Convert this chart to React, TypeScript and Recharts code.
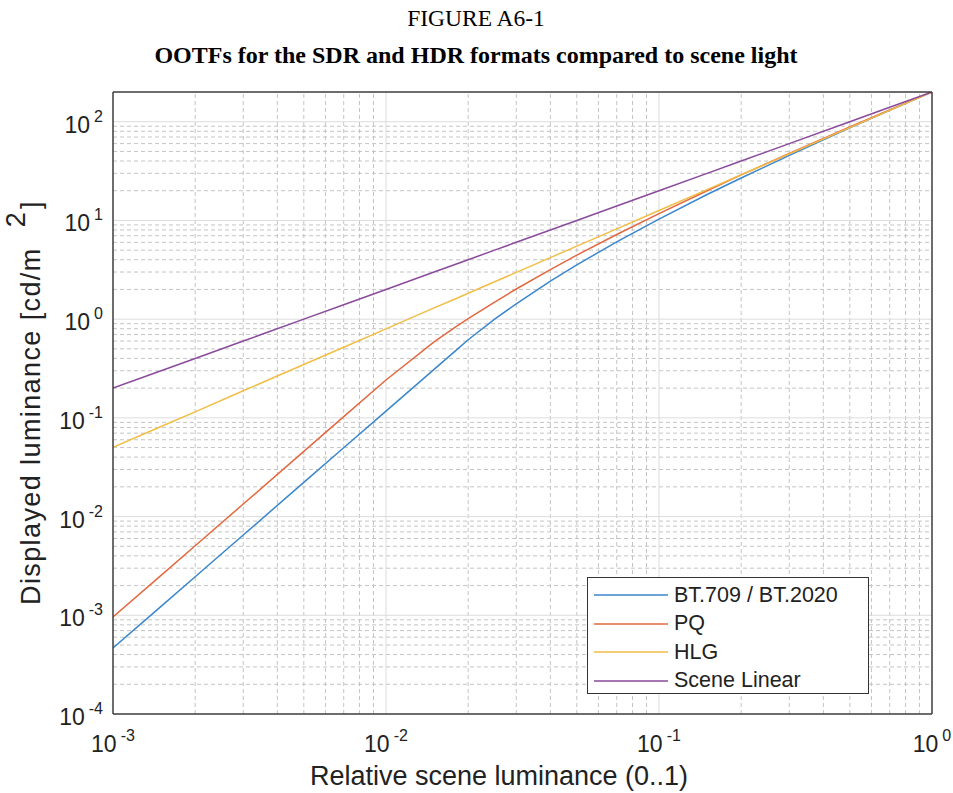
import { Legend, Line, LineChart, ReferenceLine, XAxis, YAxis } from "recharts";

// relative scene luminance (x) and displayed luminance in cd/m² for each OOTF
const sceneLuminance = [
  0.001, 0.0015, 0.002, 0.003, 0.005, 0.007, 0.01, 0.015, 0.018, 0.02, 0.025,
  0.03, 0.04, 0.05, 0.07, 0.1, 0.15, 0.2, 0.3, 0.5, 0.7, 1,
];
const bt709 = [
  0.000466, 0.00123, 0.00246, 0.00651, 0.0222, 0.0498, 0.117, 0.31, 0.48,
  0.618, 1.0, 1.43, 2.43, 3.55, 6.06, 10.3, 18.3, 26.9, 45.6, 86.6, 130.5, 200,
];
const pq = [
  0.00096, 0.00254, 0.00507, 0.0134, 0.0457, 0.103, 0.242, 0.588, 0.834, 1.01,
  1.49, 2.02, 3.18, 4.45, 7.2, 11.7, 20.0, 28.9, 47.7, 88.5, 131.9, 200,
];
const hlg = [
  0.0502, 0.0817, 0.115, 0.188, 0.347, 0.519, 0.796, 1.3, 1.61, 1.83, 2.39,
  2.98, 4.2, 5.49, 8.22, 12.6, 20.5, 29.0, 47.2, 87.1, 130.4, 200,
];
const sceneLinear = [
  0.2, 0.3, 0.4, 0.6, 1, 1.4, 2, 3, 3.6, 4, 5, 6, 8, 10, 14, 20, 30, 40, 60,
  100, 140, 200,
];

const xMajorTicks = [0.001, 0.01, 0.1, 1];
const yMajorTicks = [0.0001, 0.001, 0.01, 0.1, 1, 10, 100];
const minorSteps = [2, 3, 4, 5, 6, 7, 8, 9];
const xMinorTicks = [0.001, 0.01, 0.1].flatMap((d) => minorSteps.map((k) => k * d));
const yMinorTicks = [0.0001, 0.001, 0.01, 0.1, 1, 10].flatMap((d) =>
  minorSteps.map((k) => k * d),
);

const series = [
  { key: "bt709", name: "BT.709 / BT.2020", color: "#3a86cc" },
  { key: "pq", name: "PQ", color: "#e2683f" },
  { key: "hlg", name: "HLG", color: "#f2bd45" },
  { key: "scene", name: "Scene Linear", color: "#8a4a9c" },
];

const data = sceneLuminance.map((x, i) => ({
  x,
  bt709: bt709[i],
  pq: pq[i],
  hlg: hlg[i],
  scene: sceneLinear[i],
}));

const sans = "'Liberation Sans', Arial, sans-serif";
const serif = "'Liberation Serif', 'Times New Roman', serif";
const axisColor = "#3c3c3c";
const xDomain = [0.001, 1];
const yDomain = [0.0001, 200];

function XTick({ x, y, payload }: any) {
  const exp = Math.round(Math.log10(payload.value));
  return (
    <text x={x} y={y + 38} textAnchor="middle" fontFamily={sans} fontSize={23} fill="#222">
      <tspan>10</tspan>
      <tspan dx={4} dy={-11} fontSize={16}>
        {exp}
      </tspan>
    </text>
  );
}

function YTick({ x, y, payload }: any) {
  const exp = Math.round(Math.log10(payload.value));
  return (
    <text x={x - 10} y={y + 11} textAnchor="end" fontFamily={sans} fontSize={23} fill="#222">
      <tspan>10</tspan>
      <tspan dx={4} dy={-11} fontSize={16}>
        {exp}
      </tspan>
    </text>
  );
}

function LegendBox() {
  return (
    <div
      style={{
        width: 282,
        height: 117,
        border: "1.5px solid #333",
        background: "#fff",
        boxSizing: "border-box",
        paddingTop: 3,
      }}
    >
      {series.map((s) => (
        <div
          key={s.key}
          style={{ display: "flex", alignItems: "center", height: 28.5 }}
        >
          <svg width={86} height={10} style={{ flex: "none" }}>
            <line x1={6} x2={80} y1={5} y2={5} stroke={s.color} strokeWidth={1.5} />
          </svg>
          <span style={{ fontFamily: sans, fontSize: 21.5, color: "#222", lineHeight: 1 }}>
            {s.name}
          </span>
        </div>
      ))}
    </div>
  );
}

// inside tick marks only (MATLAB style box)
const tickAxis = {
  type: "number" as const,
  scale: "log" as const,
  allowDataOverflow: true,
  interval: 0 as const,
  tick: false,
  axisLine: false,
  tickLine: { stroke: axisColor },
  mirror: true,
};

export default function App() {
  return (
    <div style={{ position: "absolute", left: 0, top: 0, width: 953, height: 793, background: "#fff" }}>
      <LineChart
        width={953}
        height={793}
        data={data}
        margin={{ top: 92, right: 21, bottom: 19, left: 23 }}
      >
        <XAxis {...tickAxis} xAxisId="bMaj" orientation="bottom" height={1} domain={xDomain} ticks={xMajorTicks} tickSize={9} />
        <XAxis {...tickAxis} xAxisId="bMin" orientation="bottom" height={1} domain={xDomain} ticks={xMinorTicks} tickSize={5} />
        <XAxis
          {...tickAxis}
          xAxisId="tMaj"
          orientation="top"
          height={1}
          domain={xDomain}
          ticks={xMajorTicks}
          tickSize={9}
          axisLine={{ stroke: axisColor, strokeWidth: 1.5 }}
        />
        <XAxis {...tickAxis} xAxisId="tMin" orientation="top" height={1} domain={xDomain} ticks={xMinorTicks} tickSize={5} />
        <XAxis
          dataKey="x"
          type="number"
          scale="log"
          domain={xDomain}
          allowDataOverflow
          ticks={xMajorTicks}
          interval={0}
          height={60}
          tickSize={0}
          tickMargin={0}
          tickLine={false}
          axisLine={{ stroke: axisColor, strokeWidth: 1.5 }}
          tick={<XTick />}
        />

        <YAxis {...tickAxis} yAxisId="lMaj" orientation="left" width={1} domain={yDomain} ticks={yMajorTicks} tickSize={9} />
        <YAxis {...tickAxis} yAxisId="lMin" orientation="left" width={1} domain={yDomain} ticks={yMinorTicks} tickSize={5} />
        <YAxis
          {...tickAxis}
          yAxisId="rMaj"
          orientation="right"
          width={1}
          domain={yDomain}
          ticks={yMajorTicks}
          tickSize={9}
          axisLine={{ stroke: axisColor, strokeWidth: 1.5 }}
        />
        <YAxis {...tickAxis} yAxisId="rMin" orientation="right" width={1} domain={yDomain} ticks={yMinorTicks} tickSize={5} />
        <YAxis
          type="number"
          scale="log"
          domain={yDomain}
          allowDataOverflow
          ticks={yMajorTicks}
          interval={0}
          width={90}
          tickSize={0}
          tickMargin={0}
          tickLine={false}
          axisLine={{ stroke: axisColor, strokeWidth: 1.5 }}
          tick={<YTick />}
        />

        {xMinorTicks.map((v) => (
          <ReferenceLine key={`xm${v}`} x={v} stroke="#c4c4c4" strokeDasharray="4 3" />
        ))}
        {yMinorTicks.map((v) => (
          <ReferenceLine key={`ym${v}`} y={v} stroke="#c4c4c4" strokeDasharray="4 3" />
        ))}
        {xMajorTicks.slice(1, -1).map((v) => (
          <ReferenceLine key={`xM${v}`} x={v} stroke="#dcdcdc" />
        ))}
        {yMajorTicks.slice(1).map((v) => (
          <ReferenceLine key={`yM${v}`} y={v} stroke="#dcdcdc" />
        ))}

        {series.map((s) => (
          <Line
            key={s.key}
            dataKey={s.key}
            name={s.name}
            stroke={s.color}
            strokeWidth={1.5}
            dot={false}
            type="linear"
            isAnimationActive={false}
          />
        ))}

        <Legend
          layout="vertical"
          align="center"
          verticalAlign="middle"
          wrapperStyle={{ position: "absolute", left: 587, top: 577, width: 282, height: 117 }}
          content={<LegendBox />}
        />
      </LineChart>

      <svg
        width={953}
        height={793}
        style={{ position: "absolute", left: 0, top: 0, pointerEvents: "none" }}
      >
        <text x={476} y={26} textAnchor="middle" fontFamily={serif} fontSize={23.5} fill="#000">
          FIGURE A6-1
        </text>
        <text
          x={476}
          y={63}
          textAnchor="middle"
          fontFamily={serif}
          fontSize={24}
          fontWeight="bold"
          fill="#000"
        >
          OOTFs for the SDR and HDR formats compared to scene light
        </text>
        <text x={499} y={785} textAnchor="middle" fontFamily={sans} fontSize={27} fill="#222">
          Relative scene luminance (0..1)
        </text>
        <text
          transform="translate(40, 605) rotate(-90)"
          fontFamily={sans}
          fontSize={27}
          letterSpacing={1.4}
          fill="#222"
        >
          Displayed luminance [cd/m
          <tspan dx={20} dy={-15}>
            2
          </tspan>
          <tspan dx={2} dy={15}>
            ]
          </tspan>
        </text>
      </svg>
    </div>
  );
}
